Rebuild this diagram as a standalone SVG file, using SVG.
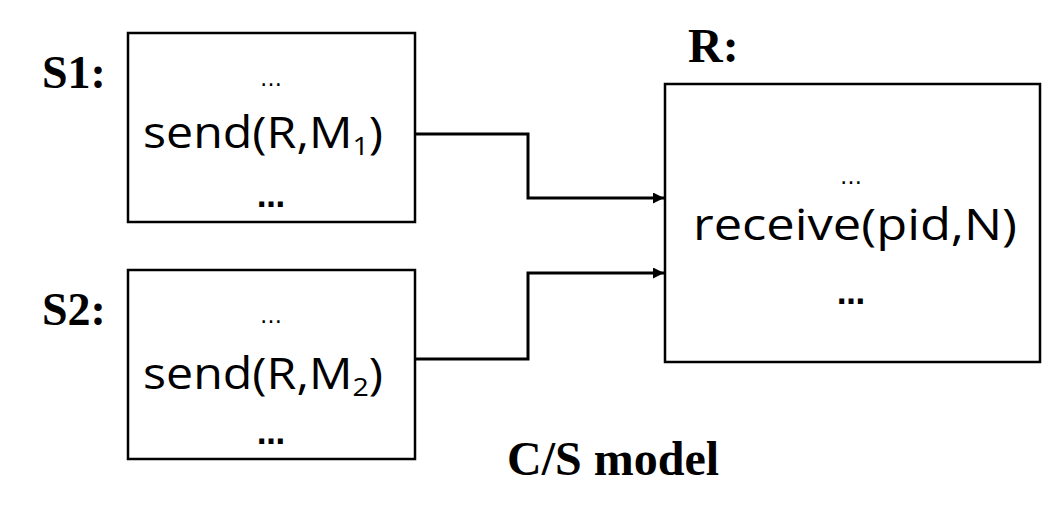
<svg xmlns="http://www.w3.org/2000/svg" width="1048" height="520" viewBox="0 0 1048 520">
<style>
.box{fill:#fff;stroke:#000;stroke-width:2.5}
.lbl{font-family:"Liberation Serif","Times New Roman",serif;font-weight:bold;fill:#000}
.code{font-family:"Comic Sans MS","Open Sans","DejaVu Sans",sans-serif;fill:#000;text-anchor:middle}
.dots{font-family:"DejaVu Sans",sans-serif;fill:#000;text-anchor:middle}
.conn{fill:none;stroke:#000;stroke-width:3}
</style>
<defs>
<marker id="arr" viewBox="0 0 10 10" refX="10" refY="5" markerWidth="12" markerHeight="11" orient="auto" markerUnits="userSpaceOnUse">
<path d="M0,0 L10,5 L0,10 Z" fill="#000"/>
</marker>
</defs>
<rect width="1048" height="520" fill="#fff"/>
<g id="S1">
<text class="lbl" x="42" y="88" font-size="46">S1:</text>
<rect class="box" x="128" y="33" width="287" height="189"/>
<text class="dots" x="271" y="86" font-size="22">…</text>
<text class="code" x="263" y="148" font-size="44" textLength="240" lengthAdjust="spacingAndGlyphs">send(R,M<tspan font-size="26" dy="7">1</tspan><tspan dy="-7">)</tspan></text>
<text class="dots" x="271" y="207" font-size="28" font-weight="bold">…</text>
</g>
<g id="S2">
<text class="lbl" x="42" y="325" font-size="46">S2:</text>
<rect class="box" x="128" y="270" width="287" height="189"/>
<text class="dots" x="271" y="323" font-size="22">…</text>
<text class="code" x="263" y="389" font-size="44" textLength="240" lengthAdjust="spacingAndGlyphs">send(R,M<tspan font-size="26" dy="7">2</tspan><tspan dy="-7">)</tspan></text>
<text class="dots" x="271" y="444" font-size="28" font-weight="bold">…</text>
</g>
<g id="R">
<text class="lbl" x="688" y="62" font-size="48">R:</text>
<rect class="box" x="665" y="84" width="375" height="278"/>
<text class="dots" x="851" y="184" font-size="22">…</text>
<text class="code" x="855" y="240" font-size="44" textLength="324" lengthAdjust="spacingAndGlyphs">receive(pid,N)</text>
<text class="dots" x="851" y="304" font-size="28" font-weight="bold">…</text>
</g>
<g id="caption">
<text class="lbl" x="507" y="475" font-size="48">C/S model</text>
</g>
<g id="connectors">
<path class="conn" d="M415,134 H528 V198 H664" marker-end="url(#arr)"/>
<path class="conn" d="M415,359 H528 V273 H664" marker-end="url(#arr)"/>
</g>
</svg>
